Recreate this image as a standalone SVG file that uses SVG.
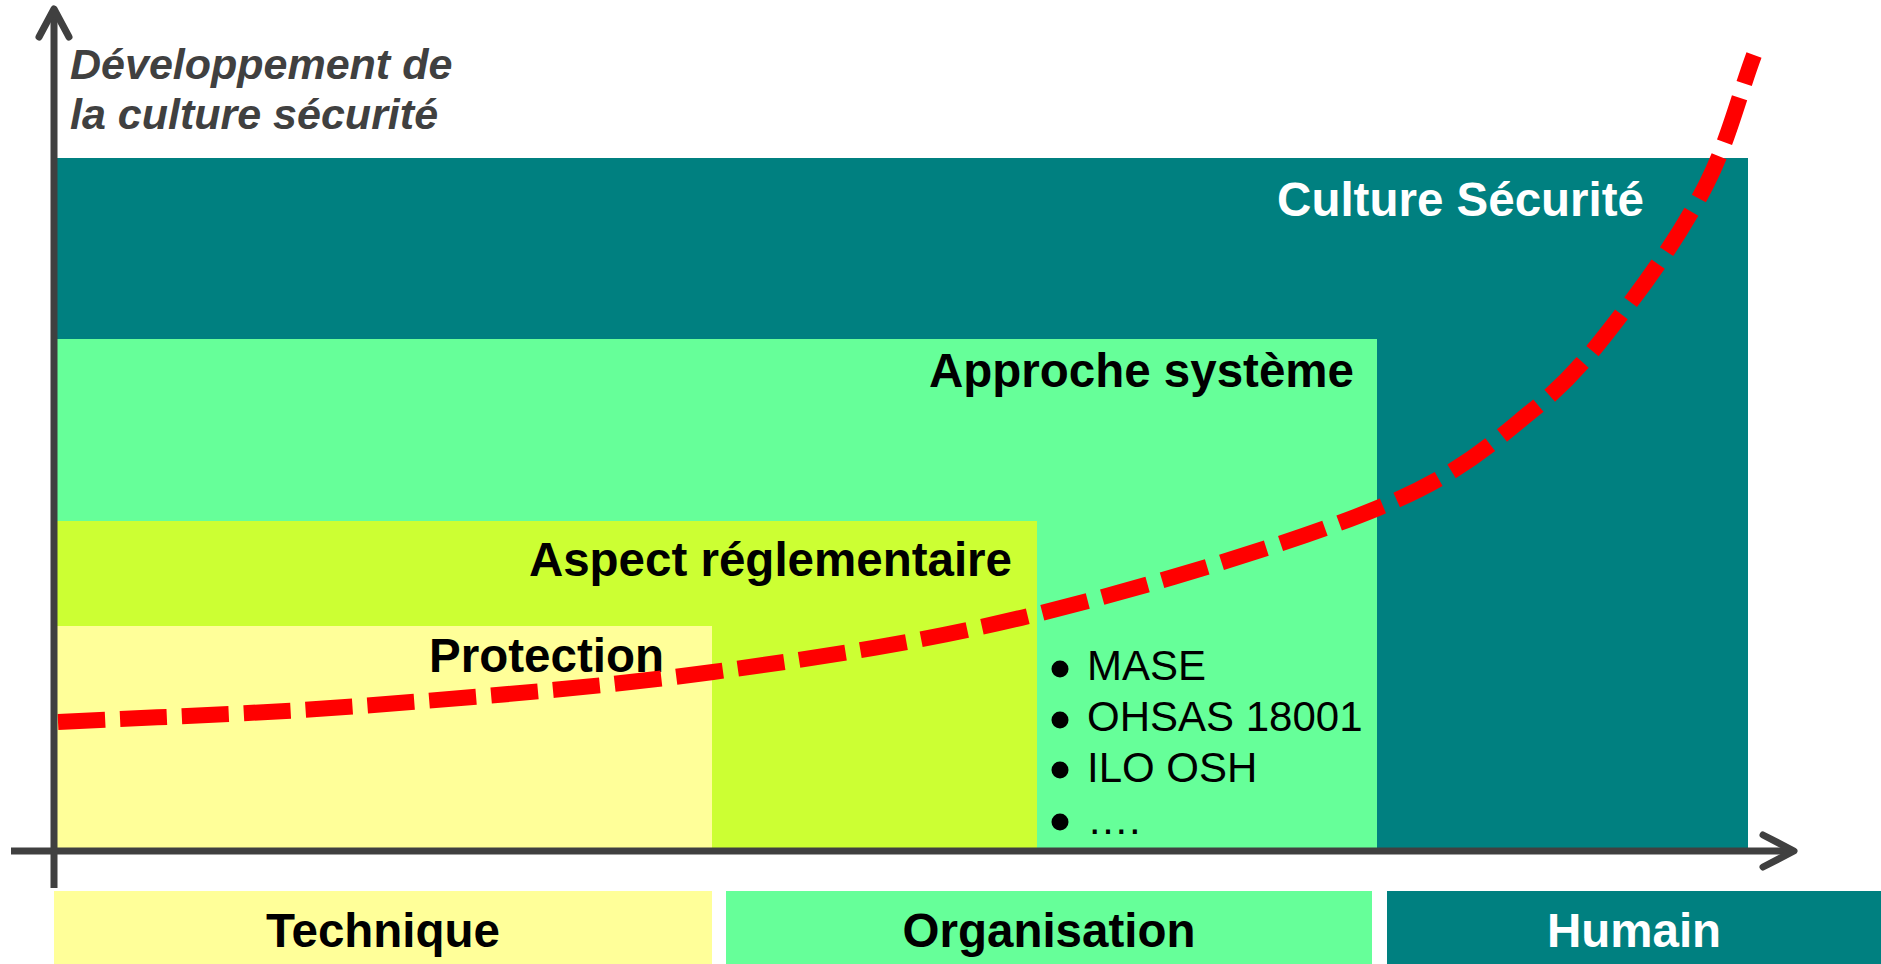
<svg xmlns="http://www.w3.org/2000/svg" width="1881" height="964" viewBox="0 0 1881 964">
  <style>
    .lbl { font-family: "Liberation Sans", Arial, sans-serif; font-weight: bold; font-size: 47.5px; fill: #000000; }
    .lbl-w { fill: #ffffff; }
    .item { font-family: "Liberation Sans", Arial, sans-serif; font-size: 42px; fill: #000000; }
    .axis-title { font-family: "Liberation Sans", Arial, sans-serif; font-weight: bold; font-style: italic; font-size: 43px; fill: #404040; }
    .axis { fill: none; stroke: #404040; stroke-width: 7; }
    .axis-head { fill: none; stroke: #404040; stroke-width: 7; stroke-linecap: round; stroke-linejoin: round; }
    .trend { fill: none; stroke: #ff0000; stroke-width: 16; stroke-dasharray: 47 15; }
  </style>

  <rect width="1881" height="964" fill="#ffffff"/>

  <!-- nested stages, largest first -->
  <g id="culture-securite">
    <rect x="54" y="158" width="1694" height="693" fill="#008080"/>
    <text class="lbl lbl-w" x="1644" y="216" text-anchor="end">Culture Sécurité</text>
  </g>

  <g id="approche-systeme">
    <rect x="54" y="339" width="1323" height="512" fill="#66ff99"/>
    <text class="lbl" x="1354" y="387" text-anchor="end">Approche système</text>
    <g id="referentiels">
      <circle cx="1060" cy="669" r="8.5" fill="#000000"/>
      <circle cx="1060" cy="720" r="8.5" fill="#000000"/>
      <circle cx="1060" cy="770" r="8.5" fill="#000000"/>
      <circle cx="1060" cy="822" r="8.5" fill="#000000"/>
      <text class="item" x="1087" y="680">MASE</text>
      <text class="item" x="1087" y="731">OHSAS 18001</text>
      <text class="item" x="1087" y="782">ILO OSH</text>
      <text class="item" x="1087" y="834">….</text>
    </g>
  </g>

  <g id="aspect-reglementaire">
    <rect x="54" y="521" width="983" height="330" fill="#ccff33"/>
    <text class="lbl" x="1012" y="576" text-anchor="end">Aspect réglementaire</text>
  </g>

  <g id="protection">
    <rect x="54" y="626" width="658" height="225" fill="#ffff99"/>
    <text class="lbl" x="664" y="672" text-anchor="end" font-size="42">Protection</text>
  </g>

  <!-- categories under the horizontal axis -->
  <g id="technique">
    <rect x="54" y="891" width="658" height="73" fill="#ffff99"/>
    <text class="lbl" x="383" y="947" text-anchor="middle">Technique</text>
  </g>
  <g id="organisation">
    <rect x="726" y="891" width="646" height="73" fill="#66ff99"/>
    <text class="lbl" x="1049" y="947" text-anchor="middle">Organisation</text>
  </g>
  <g id="humain">
    <rect x="1387" y="891" width="494" height="73" fill="#008080"/>
    <text class="lbl lbl-w" x="1634" y="947" text-anchor="middle">Humain</text>
  </g>

  <!-- growth curve of the safety culture -->
  <g id="courbe">
    <path class="trend" d="M58,722 C158.7,716.7 250.8,714.3 360,706 C469.2,697.7 600.2,687.3 713,672 C825.8,656.7 926.2,641.3 1037,614 C1147.8,586.7 1295.3,542 1378,508 C1460.7,474 1491.5,443.5 1533,410 C1574.5,376.5 1598,344.8 1627,307 C1656,269.2 1685.8,225 1707,183 C1728.2,141 1738.3,97.7 1754,55"/>
  </g>

  <!-- axes -->
  <g id="connectors">
    <line class="axis" x1="54" y1="888" x2="54" y2="10"/>
    <polyline class="axis-head" points="39,37 54,9 69,37"/>
    <line class="axis" x1="11" y1="851" x2="1792" y2="851"/>
    <polyline class="axis-head" points="1763,835 1794,851 1763,867"/>
  </g>

  <g id="titre-axe">
    <text class="axis-title" x="70" y="79">Développement de</text>
    <text class="axis-title" x="70" y="129">la culture sécurité</text>
  </g>
</svg>
